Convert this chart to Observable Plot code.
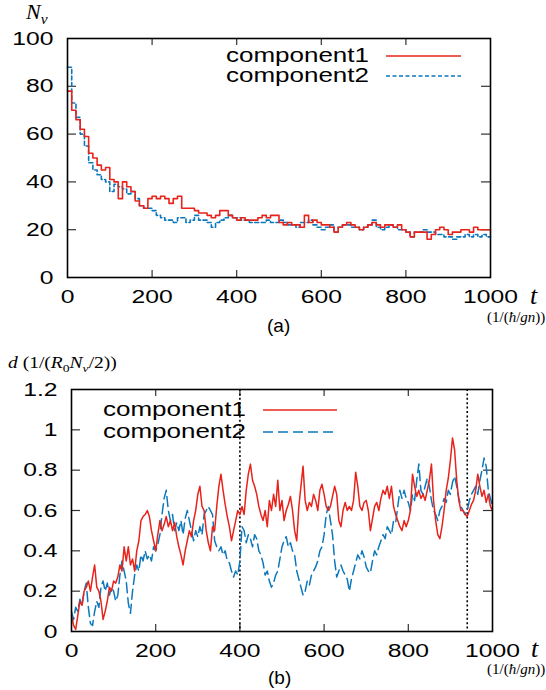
<!DOCTYPE html>
<html><head><meta charset="utf-8">
<script src="https://cdn.jsdelivr.net/npm/d3@7"></script>
<script src="https://cdn.jsdelivr.net/npm/@observablehq/plot@0.6"></script>
<style>
body{margin:0;background:#fff;}
#wrap{position:relative;width:546px;height:690px;overflow:hidden;background:#fff;}
#wrap svg{display:block;}
.abs{position:absolute;white-space:nowrap;line-height:1;color:#000;}
.ser{font-family:"Liberation Serif","DejaVu Serif",serif;}
.sans{font-family:"Liberation Sans",Arial,sans-serif;}
#overlay{position:absolute;left:0;top:0;pointer-events:none;}
</style></head>
<body>
<div id="wrap">
  <div id="pa"></div>
  <div id="pb"></div>
</div>
<script>
// ---------- data ----------
const STEP_A = 10;   // time step of panel (a) samples
const STEP_B = 5;    // time step of panel (b) samples
const seriesNames = ["component1", "component2"];
const colors = ["#e8231b", "#0b78bd"];

// panel (a): vortex number N_v
const nv1 = [
  78,70,66,62,59,52,50,47,45,46,
  41,40,33,40,38,36,32,30,29,33,
  34,33,34,33,31,33,34,29,29,29,
  28,27,27,26,25,26,28,28,26,25,
  24,25,24,24,24,25,26,25,26,26,
  23,22,23,22,22,21,26,23,24,23,
  22,22,21,19,21,22,23,22,21,20,
  21,22,23,22,21,22,22,21,22,20,
  19,17,19,19,19,16,18,20,21,20,
  18,19,19,20,20,19,21,20,20,20,
  20];
const nv2 = [
  88,73,67,60,55,48,45,43,41,40,
  36,39,38,37,35,36,33,30,29,29,
  28,26,25,24,24,23,25,25,23,24,
  26,24,24,23,21,23,24,25,26,25,
  25,24,24,23,23,23,23,24,23,23,
  24,23,22,22,21,23,23,24,22,21,
  20,21,22,19,21,22,22,21,21,20,
  21,22,24,21,20,21,22,21,20,20,
  19,17,19,19,20,19,19,18,18,17,
  17,16,17,17,18,17,18,17,18,17,
  17];

// panel (b): distance d
const d1 = [
  0.08,0.03,0.01,0.08,0.15,0.13,0.20,0.22,0.25,0.20,
  0.27,0.33,0.22,0.20,0.15,0.06,0.10,0.15,0.22,0.20,
  0.25,0.24,0.27,0.33,0.30,0.42,0.35,0.42,0.33,0.36,
  0.30,0.40,0.45,0.55,0.57,0.58,0.60,0.57,0.50,0.45,
  0.40,0.48,0.55,0.50,0.53,0.57,0.52,0.55,0.50,0.54,
  0.47,0.42,0.38,0.33,0.40,0.45,0.50,0.47,0.55,0.60,
  0.68,0.72,0.62,0.60,0.50,0.44,0.40,0.52,0.50,0.62,
  0.72,0.78,0.70,0.63,0.57,0.52,0.45,0.50,0.55,0.60,
  0.58,0.62,0.58,0.70,0.78,0.83,0.75,0.72,0.68,0.62,
  0.58,0.55,0.60,0.52,0.65,0.60,0.68,0.62,0.75,0.60,
  0.65,0.55,0.60,0.63,0.67,0.60,0.50,0.45,0.62,0.72,
  0.82,0.65,0.60,0.64,0.62,0.68,0.65,0.60,0.70,0.73,
  0.68,0.62,0.60,0.62,0.67,0.72,0.68,0.55,0.52,0.60,
  0.64,0.60,0.62,0.60,0.65,0.79,0.72,0.62,0.60,0.64,
  0.65,0.60,0.50,0.56,0.62,0.64,0.60,0.66,0.70,0.68,
  0.72,0.66,0.72,0.62,0.58,0.55,0.52,0.50,0.55,0.52,
  0.55,0.60,0.78,0.72,0.67,0.70,0.66,0.68,0.65,0.70,
  0.75,0.83,0.65,0.55,0.48,0.46,0.52,0.60,0.70,0.76,
  0.85,0.96,0.90,0.75,0.65,0.60,0.60,0.58,0.57,0.60,
  0.63,0.65,0.70,0.78,0.72,0.67,0.70,0.64,0.68,0.62,
  0.60];
const d2 = [
  0.10,0.06,0.12,0.10,0.16,0.13,0.20,0.24,0.12,0.04,
  0.03,0.10,0.15,0.12,0.22,0.25,0.20,0.24,0.18,0.22,
  0.20,0.15,0.18,0.28,0.35,0.30,0.25,0.14,0.09,0.20,
  0.28,0.33,0.30,0.38,0.35,0.40,0.36,0.38,0.35,0.42,
  0.40,0.43,0.48,0.58,0.66,0.70,0.60,0.55,0.58,0.50,
  0.54,0.50,0.55,0.48,0.56,0.60,0.55,0.50,0.45,0.50,
  0.47,0.52,0.48,0.58,0.60,0.62,0.60,0.58,0.45,0.42,
  0.40,0.42,0.38,0.40,0.35,0.34,0.30,0.27,0.30,0.28,
  0.35,0.52,0.50,0.44,0.48,0.46,0.42,0.48,0.46,0.40,
  0.38,0.34,0.28,0.30,0.25,0.22,0.24,0.28,0.30,0.36,
  0.42,0.45,0.47,0.42,0.44,0.40,0.38,0.30,0.26,0.22,
  0.18,0.20,0.25,0.23,0.28,0.30,0.32,0.35,0.40,0.42,
  0.48,0.58,0.62,0.55,0.48,0.35,0.27,0.30,0.33,0.30,
  0.28,0.26,0.20,0.26,0.30,0.34,0.38,0.36,0.40,0.37,
  0.32,0.30,0.29,0.35,0.40,0.38,0.42,0.45,0.48,0.46,
  0.52,0.50,0.48,0.55,0.54,0.62,0.70,0.66,0.70,0.66,
  0.64,0.60,0.68,0.65,0.75,0.83,0.70,0.68,0.72,0.76,
  0.72,0.65,0.60,0.58,0.55,0.60,0.62,0.66,0.64,0.70,
  0.68,0.74,0.77,0.72,0.66,0.62,0.60,0.58,0.60,0.65,
  0.68,0.70,0.72,0.68,0.75,0.80,0.86,0.82,0.70,0.66,
  0.62];

const markerTimes = [400, 940];            // dotted vertical markers in (b)
const xTicks = [0, 200, 400, 600, 800, 1000];
const yTicksA = [0, 20, 40, 60, 80, 100];
const yTicksB = [0, 0.2, 0.4, 0.6, 0.8, 1, 1.2];

// ---------- tables ----------
const rowsA = nv1.map((v, i) => ({t: i * STEP_A, v, s: seriesNames[0]}))
  .concat(nv2.map((v, i) => ({t: i * STEP_A, v, s: seriesNames[1]})));
const rowsB = d1.map((v, i) => ({t: i * STEP_B, v, s: seriesNames[0]}))
  .concat(d2.map((v, i) => ({t: i * STEP_B, v, s: seriesNames[1]})));

const SX = 1.3; // horizontal stretch of the original figure's lettering

function stretch(svg) {
  svg.querySelectorAll("text").forEach(t => {
    const x = +(t.getAttribute("x") || 0);
    const tr = t.getAttribute("transform") || "";
    t.setAttribute("transform", `${tr} translate(${x},0) scale(${SX},1)`);
    t.setAttribute("x", 0);
  });
}

function panel({rows, yDomain, yTicks, W, H, mt, mb, ml, mr, dash, markers, sw}) {
  const fh = H - mt - mb, fw = W - ml - mr;
  const marks = [
    Plot.tickX(xTicks.slice(1, -1), {x: d => d, insetTop: fh - 7, stroke: "#333", strokeWidth: 1.2}),
    Plot.tickX(xTicks.slice(1, -1), {x: d => d, insetBottom: fh - 7, stroke: "#333", strokeWidth: 1.2}),
    Plot.tickY(yTicks.slice(1, -1), {y: d => d, insetRight: fw - 9, stroke: "#333", strokeWidth: 1.2}),
    Plot.tickY(yTicks.slice(1, -1), {y: d => d, insetLeft: fw - 9, stroke: "#333", strokeWidth: 1.2})
  ];
  if (markers) marks.push(Plot.ruleX(markers, {x: d => d, stroke: "#000", strokeWidth: 1.6, strokeDasharray: "2,2.4"}));
  marks.push(
    Plot.line(rows.filter(d => d.s === seriesNames[1]), {x: "t", y: "v", stroke: colors[1], strokeWidth: sw, strokeDasharray: dash, curve: markers ? "linear" : "step-after"}),
    Plot.line(rows.filter(d => d.s === seriesNames[0]), {x: "t", y: "v", stroke: colors[0], strokeWidth: sw, curve: markers ? "linear" : "step-after"}),
    Plot.frame({stroke: "#000", strokeWidth: 1.6}),
    Plot.axisX(xTicks, {tickSize: 0, tickPadding: 12, label: null, tickFormat: d => String(d)}),
    Plot.axisY(yTicks, {tickSize: 0, tickPadding: 14, label: null, tickFormat: d => String(d)})
  );
  const svg = Plot.plot({
    width: W, height: H,
    marginTop: mt, marginBottom: mb, marginLeft: ml, marginRight: mr,
    x: {domain: [0, 1000]},
    y: {domain: yDomain},
    style: {fontFamily: "'Liberation Sans', Arial, sans-serif", fontSize: "19px", color: "#000", background: "#fff", overflow: "visible"},
    marks
  });
  stretch(svg);
  return svg;
}

const svgA = panel({rows: rowsA, yDomain: [0, 100], yTicks: yTicksA, W: 546, H: 345, mt: 38, mb: 68, ml: 67, mr: 56, dash: "4,2.5", sw: 1.6});
const svgB = panel({rows: rowsB, yDomain: [0, 1.2], yTicks: yTicksB, W: 546, H: 345, mt: 44, mb: 59, ml: 71, mr: 54, dash: "10,5", markers: markerTimes, sw: 1.5});
document.getElementById("pa").appendChild(svgA);
document.getElementById("pb").appendChild(svgB);

// ---------- legends (overlay) ----------
const NS = "http://www.w3.org/2000/svg";
const ov = document.createElementNS(NS, "svg");
ov.setAttribute("id", "overlay"); ov.setAttribute("width", 546); ov.setAttribute("height", 690);
function legend(textRight, y0, y1, x0, x1, dash) {
  seriesNames.forEach((name, i) => {
    const y = i ? y1 : y0;
    const t = document.createElementNS(NS, "text");
    t.setAttribute("transform", `translate(${textRight},${y + 6}) scale(${SX},1)`);
    t.setAttribute("text-anchor", "end");
    t.setAttribute("font-family", "'Liberation Sans', Arial, sans-serif");
    t.setAttribute("font-size", "20");
    t.textContent = name;
    ov.appendChild(t);
    const l = document.createElementNS(NS, "line");
    l.setAttribute("x1", x0); l.setAttribute("x2", x1);
    l.setAttribute("y1", y); l.setAttribute("y2", y);
    l.setAttribute("stroke", colors[i]); l.setAttribute("stroke-width", 1.5);
    if (i) l.setAttribute("stroke-dasharray", dash);
    ov.appendChild(l);
  });
}
legend(369, 56, 76, 386, 461, "4,2.5");
legend(246, 410, 432, 263, 337, "10,5");
document.getElementById("wrap").appendChild(ov);

// ---------- math labels ----------
const wrap = document.getElementById("wrap");
function label(html, css) {
  const d = document.createElement("div");
  d.className = "abs " + (css.cls || "");
  d.innerHTML = html;
  Object.assign(d.style, css.style);
  wrap.appendChild(d);
}
label('<i>N</i><sub style="font-size:0.7em"><i>v</i></sub>', {cls: "ser", style: {left: "26px", top: "1px", fontSize: "22px"}});
label('<i>t</i>', {cls: "ser", style: {left: "530px", top: "283px", fontSize: "26px"}});
label('(1/(<i>ħ</i>/<i>gn</i>))', {cls: "ser", style: {left: "487px", top: "310px", fontSize: "15px"}});
label('(a)', {cls: "sans", style: {left: "267px", top: "316px", fontSize: "19px"}});
label('<i>d</i> (1/(<i>R</i><sub style="font-size:0.7em">0</sub><i>N</i><sub style="font-size:0.7em"><i>v</i></sub>/2))', {cls: "ser", style: {left: "8px", top: "355px", fontSize: "16px", transform: "scaleX(1.22)", transformOrigin: "left"}});
label('<i>t</i>', {cls: "ser", style: {left: "531px", top: "636px", fontSize: "26px"}});
label('(1/(<i>ħ</i>/<i>gn</i>))', {cls: "ser", style: {left: "487px", top: "662px", fontSize: "15px"}});
label('(b)', {cls: "sans", style: {left: "268px", top: "668px", fontSize: "19px"}});
</script>
</body></html>
